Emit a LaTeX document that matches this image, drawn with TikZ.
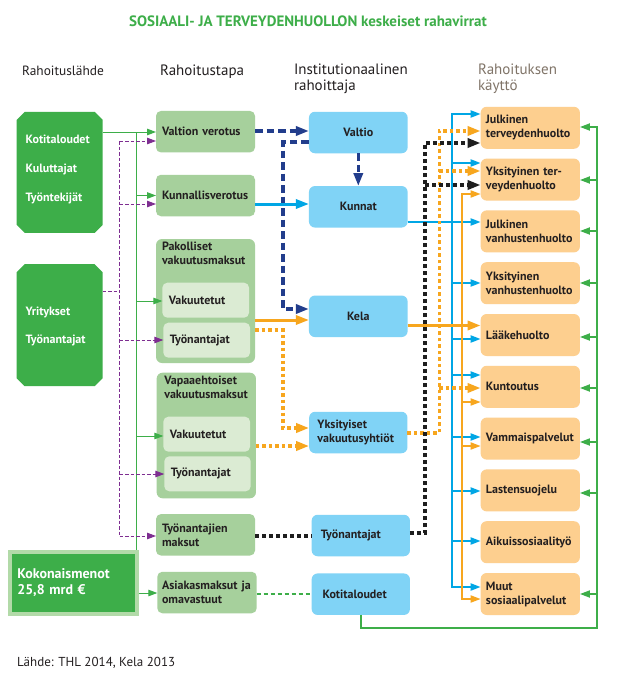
\documentclass[tikz,border=0pt]{standalone}
\usepackage{fontspec}
\setmainfont{PT Sans}
\usetikzlibrary{arrows.meta}
\definecolor{dkg}{RGB}{61,174,73}
\definecolor{kokb}{RGB}{178,218,168}
\definecolor{ltg}{RGB}{166,208,156}
\definecolor{inng}{RGB}{219,235,211}
\definecolor{ltb}{RGB}{128,211,246}
\definecolor{org}{RGB}{253,207,143}
\definecolor{navy}{RGB}{34,61,140}
\definecolor{cyanl}{RGB}{0,166,229}
\definecolor{orl}{RGB}{247,166,30}
\definecolor{purp}{RGB}{126,46,145}
\definecolor{taupe}{RGB}{128,116,104}
\definecolor{txt}{RGB}{35,31,32}
\definecolor{blk}{RGB}{30,30,30}
\begin{document}
\begin{tikzpicture}[x=1pt,y=-1pt,
  every node/.style={inner sep=0pt, outer sep=0pt},
  f/.style={font=\fontsize{12}{14}\selectfont\bfseries, text=txt},
  srcbox/.style={minimum width=86pt},
  srctxt/.style={font=\fontsize{12}{14}\selectfont\bfseries, text=white, anchor=base west},
  gbox/.style={f, fill=ltg, rounded corners=5pt, minimum height=41.5pt, align=left, inner xsep=6pt, text width=#1},
  obx/.style={fill=ltg, rounded corners=6pt},
  ibox/.style={f, fill=inng, rounded corners=5pt, minimum height=35pt, align=left, inner xsep=6.5pt, text width=#1},
  bbox/.style={f, fill=ltb, rounded corners=6pt, minimum height=41.5pt, minimum width=98.7pt, align=center},
  bboxl/.style={f, fill=ltb, rounded corners=6pt, minimum height=41.5pt, align=left, inner xsep=#1, text width=98.3pt-2*#1},
  obox/.style={f, fill=org, rounded corners=6pt, minimum height=42pt, align=left, inner xsep=5.3pt, text width=88.7pt},
  hdr/.style={font=\fontsize{15}{16}\selectfont, text=txt, align=left},
  gline/.style={dkg, line width=1pt},
  garr/.style={gline, -{Triangle[length=9pt,width=6.5pt]}},
  pline/.style={purp, line width=0.9pt, dash pattern=on 3.5pt off 2pt},
  parr/.style={pline, -{Triangle[length=9pt,width=6.5pt]}},
  narr/.style={navy, line width=3.2pt, dash pattern=on 7.5pt off 4pt, -{Triangle[length=13pt,width=9pt]}},
  carrL/.style={cyanl, line width=3pt, -{Triangle[length=13pt,width=9pt]}},
  carr/.style={cyanl, line width=2pt, -{Triangle[length=10pt,width=7pt]}},
  oarrL/.style={orl, line width=3pt, -{Triangle[length=13pt,width=9pt]}},
  oarr/.style={orl, line width=1.8pt, -{Triangle[length=10pt,width=7pt]}},
  odarr/.style={orl, line width=3.5pt, dash pattern=on 3.5pt off 3pt, -{Triangle[length=13pt,width=9pt]}},
  bdot/.style={blk, line width=3.5pt, dash pattern=on 4pt off 3pt},
  bdarr/.style={bdot, -{Triangle[length=13pt,width=9pt]}},
  gdot/.style={dkg, line width=2.5pt, dash pattern=on 4pt off 3pt},
  grarr/.style={dkg, line width=1.8pt, -{Triangle[length=10pt,width=7pt]}},
]
\fill[white] (0,0) rectangle (616,677);
\useasboundingbox (0,0) rectangle (616,677);

% title and headers
\node[font=\fontsize{15}{17}\selectfont\bfseries, text=dkg, anchor=base] (title) at (308,26.7) {SOSIAALI- JA TERVEYDENHUOLLON keskeiset rahavirrat};
\node[hdr, font=\fontsize{13.4}{16}\selectfont, anchor=base west] (h1) at (22,75) {Rahoituslähde};
\node[hdr, anchor=base west] (h2) at (160,75) {Rahoitustapa};
\node[hdr, anchor=north west] (h3) at (294,64.2) {Institutionaalinen\\rahoittaja};
\node[hdr, anchor=north west, text=taupe] (h4) at (478,64.2) {Rahoituksen\\käyttö};

% sources
\node[srcbox, minimum height=121pt] (src1) at (59.7,172.3) {};
\node[srcbox, minimum height=122pt] (src2) at (59.7,325.2) {};
\foreach \s in {src1,src2}
  \fill[dkg] ([yshift=-8pt]\s.north west) -- ([xshift=8pt]\s.north west) -- ([xshift=-8pt]\s.north east)
    -- ([yshift=-8pt]\s.north east) -- ([yshift=8pt]\s.south east) -- ([xshift=-8pt]\s.south east)
    -- ([xshift=8pt]\s.south west) -- ([yshift=8pt]\s.south west) -- cycle;
\node[srctxt] (t11) at (25.7,143.5) {Kotitaloudet};
\node[srctxt] (t12) at (25.7,172.5) {Kuluttajat};
\node[srctxt] (t13) at (25.7,201) {Työntekijät};
\node[srctxt] (t21) at (25.7,315) {Yritykset};
\node[srctxt] (t22) at (25.7,343.5) {Työnantajat};
\node[fill=dkg, draw=kokb, line width=4pt, outer sep=2pt, minimum width=126.7pt, minimum height=61.7pt,
      inner xsep=7.4pt, text width=111.9pt, align=left, text=white,
      font=\fontsize{14}{16}\selectfont\bfseries] (kok) at (73.3,582.8) {Kokonaismenot\\25,8 mrd €};

% rahoitustapa
\node[gbox=87pt] (tax1) at (205.5,131.7) {Valtion verotus};
\node[gbox=87pt] (tax2) at (205.5,195.5) {Kunnallisverotus};
\node[obx, minimum width=99pt, minimum height=124pt] (pak) at (205.5,301) {};
\node[f, anchor=north west, align=left] (pakt) at (162,242) {Pakolliset\\vakuutusmaksut};
\node[ibox=73.7pt] (pak1) at (205.7,300.2) {Vakuutetut};
\node[ibox=73.7pt] (pak2) at (206.7,340.2) {Työnantajat};
\node[obx, minimum width=99.3pt, minimum height=125.6pt] (vap) at (206.3,435.5) {};
\node[f, anchor=north west, align=left] (vapt) at (164.3,376) {Vapaaehtoiset\\vakuutusmaksut};
\node[ibox=73.7pt] (vap1) at (206.7,434.2) {Vakuutetut};
\node[ibox=73.4pt] (vap2) at (207.5,473.8) {Työnantajat};
\node[gbox=87pt] (tam) at (205.5,534.8) {Työnantajien\\maksut};
\node[gbox=90pt, inner xsep=4.7pt] (asi) at (207,592.5) {\mbox{Asiakasmaksut ja}\\omavastuut};

% institutionaalinen rahoittaja
\node[bbox] (valtio) at (358.3,132.5) {Valtio};
\node[bbox] (kunnat) at (358.3,206.8) {Kunnat};
\node[bbox] (kela) at (358.3,316.3) {Kela};
\node[bboxl=8.3pt] (yvak) at (358.3,432.5) {Yksityiset\\vakuutusyhtiöt};
\node[bboxl=9.3pt] (tyo) at (360.8,535.5) {Työnantajat};
\node[bboxl=11pt] (koti) at (360.8,594.2) {Kotitaloudet};

% rahoituksen käyttö
\node[obox] (o1) at (530.3,127.8) {Julkinen\\terveydenhuolto};
\node[obox] (o2) at (530.3,179.6) {Yksityinen ter-\\veydenhuolto};
\node[obox] (o3) at (530.3,231.4) {Julkinen\\vanhustenhuolto};
\node[obox] (o4) at (530.3,283.2) {Yksityinen\\vanhustenhuolto};
\node[obox] (o5) at (530.3,335) {Lääkehuolto};
\node[obox] (o6) at (530.3,386.8) {Kuntoutus};
\node[obox] (o7) at (530.3,438.6) {Vammaispalvelut};
\node[obox] (o8) at (530.3,490.4) {Lastensuojelu};
\node[obox] (o9) at (530.3,542.2) {Aikuissosiaalityö};
\node[obox] (o10) at (530.3,594) {Muut\\sosiaalipalvelut};

\node[font=\fontsize{13}{15}\selectfont, text=txt, anchor=base west] (src) at (17,666) {Lähde: THL 2014, Kela 2013};

% bus coordinates
\coordinate (gb) at (136.5,0);
\coordinate (pb) at (119.5,0);
\coordinate (nb) at (283,0);
\coordinate (bb) at (425,0);
\coordinate (odb) at (439.3,0);
\coordinate (cb) at (452,0);
\coordinate (ob) at (462,0);
\coordinate (grb) at (597,0);

% green (households)
\draw[garr] (src1.east |- 0,132) -- (tax1.west |- 0,132);
\draw[gline] (gb |- 0,132) -- (gb |- kok.north);
\draw[garr] (gb |- 0,195.5) -- (tax2.west |- 0,195.5);
\draw[garr] (gb |- 0,301) -- (pak1.west |- 0,301);
\draw[garr] (gb |- 0,436) -- (vap1.west |- 0,436);
\draw[garr] (kok.east |- 0,593) -- (asi.west |- 0,593);

% purple (employers)
\draw[pline] (src2.east |- 0,291) -- (pb |- 0,291);
\draw[pline] (pb |- 0,141) -- (pb |- 0,536);
\draw[parr] (pb |- 0,141) -- (tax1.west |- 0,141);
\draw[parr] (pb |- 0,204) -- (tax2.west |- 0,204);
\draw[parr] (pb |- 0,340) -- (pak2.west |- 0,340);
\draw[parr] (pb |- 0,474) -- (vap2.west |- 0,474);
\draw[parr] (pb |- 0,536) -- (tam.west |- 0,536);

% navy (state)
\draw[narr] (tax1.east |- 0,131) -- (valtio.west |- 0,131);
\draw[narr] (valtio.south) -- (kunnat.north);
\draw[narr] (valtio.west |- 0,142) -- (nb |- 0,142) -- (nb |- 0,309) -- (kela.west |- 0,309);

% cyan (municipalities)
\draw[carrL] (tax2.east |- 0,204) -- (kunnat.west |- 0,204);
\draw[carr] (kunnat.east |- 0,222) -- (o3.west |- 0,222);
\draw[carr] (cb |- 0,350) -- (cb |- 0,114) -- (o1.west |- 0,114);
\draw[carr] (cb |- 0,350) -- (cb |- 0,587) -- (o10.west |- 0,587);
\draw[carr] (cb |- 0,163) -- (o2.west |- 0,163);
\draw[carr] (cb |- 0,283) -- (o4.west |- 0,283);
\draw[carr] (cb |- 0,339) -- (o5.west |- 0,339);
\draw[carr] (cb |- 0,375) -- (o6.west |- 0,375);
\draw[carr] (cb |- 0,437) -- (o7.west |- 0,437);
\draw[carr] (cb |- 0,491) -- (o8.west |- 0,491);
\draw[carr] (cb |- 0,541) -- (o9.west |- 0,541);

% orange (Kela)
\draw[oarrL] (pak.east |- 0,320) -- (kela.west |- 0,320);
\draw[oarrL] (kela.east |- 0,325.5) -- (o5.west |- 0,325.5);
\draw[oarr] (ob |- 0,400) -- (ob |- 0,194) -- (o2.west |- 0,194);
\draw[oarr] (ob |- 0,400) -- (ob |- 0,599) -- (o10.west |- 0,599);
\draw[oarr] (ob |- 0,402) -- (o6.west |- 0,402);
\draw[oarr] (ob |- 0,446) -- (o7.west |- 0,446);

% orange dotted (insurance companies)
\draw[odarr] (pak.east |- 0,330) -- (nb |- 0,330) -- (nb |- 0,428) -- (yvak.west |- 0,428);
\draw[odarr] (vap.east |- 0,446) -- (yvak.west |- 0,446);
\draw[odarr] (yvak.east |- 0,433) -- (odb |- 0,433) -- (odb |- 0,131) -- (o1.west |- 0,131);
\draw[odarr] (odb |- 0,171) -- (o2.west |- 0,171);
\draw[odarr] (odb |- 0,388) -- (o6.west |- 0,388);

% black dotted (employers)
\draw[bdot] (tam.east |- 0,536) -- (tyo.west |- 0,536);
\draw[bdarr] (tyo.east |- 0,533) -- (bb |- 0,533) -- (bb |- 0,143) -- (o1.west |- 0,143);
\draw[bdarr] (bb |- 0,185) -- (o2.west |- 0,185);

% green dotted and households return
\draw[gdot] (asi.east |- 0,594) -- (koti.west |- 0,594);
\draw[grarr] (koti.south) -- (koti.south |- 0,628) -- (grb |- 0,628) -- (grb |- 0,127) -- (o1.east |- 0,127);
\foreach \n/\y in {o2/180,o3/231,o4/283,o5/337,o6/388,o7/442,o8/493,o10/594}
  \draw[grarr] (grb |- 0,\y) -- (\n.east |- 0,\y);
\end{tikzpicture}
\end{document}
